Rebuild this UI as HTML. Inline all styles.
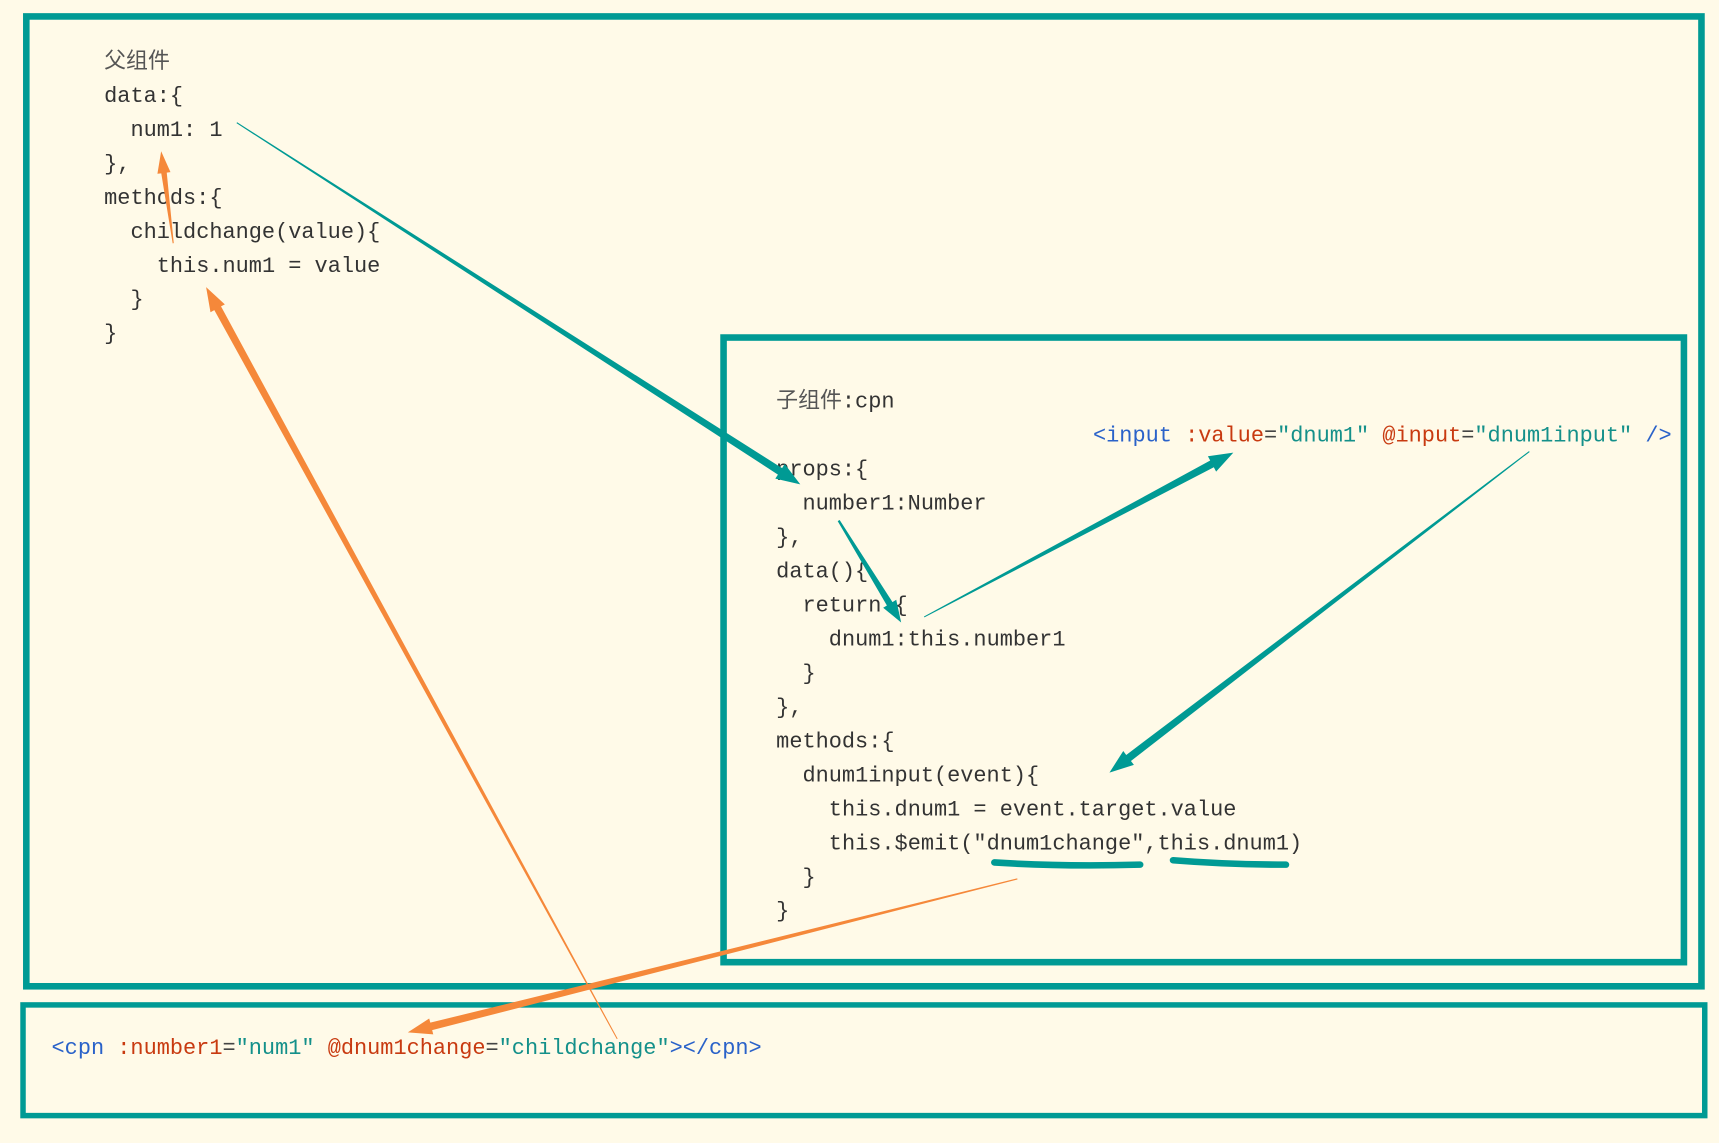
<!DOCTYPE html>
<html><head><meta charset="utf-8">
<style>
html,body{margin:0;padding:0;background:#fffae8;}
svg{display:block;}
text{font-family:"Liberation Mono","Noto Sans CJK SC",monospace;font-size:20px;fill:#333;}
.cj{font-family:"Liberation Sans","Noto Sans CJK SC",sans-serif;fill:#555;}
.b{fill:#2a62c9}.r{fill:#c83a10}.t{fill:#14908a}.g{fill:#444}
</style></head><body>
<svg id="s" width="1719" height="1143" viewBox="0 0 1568 1043" preserveAspectRatio="none" xmlns="http://www.w3.org/2000/svg">
<rect x="0" y="0" width="1568" height="1043" fill="#fffae8"/>
<rect x="24" y="15" width="1528" height="885" fill="none" stroke="#009a94" stroke-width="6"/>
<rect x="660" y="308" width="876" height="570" fill="none" stroke="#009a94" stroke-width="6"/>
<rect x="21" y="917" width="1534" height="101" fill="none" stroke="#009a94" stroke-width="5"/>

<text class="cj" x="95" y="62">父组件</text>
<text x="95" y="93">data:{</text>
<text x="119" y="124">num1: 1</text>
<text x="95" y="155">},</text>
<text x="95" y="186">methods:{</text>
<text x="119" y="217">childchange(value){</text>
<text x="143" y="248">this.num1 = value</text>
<text x="119" y="279">}</text>
<text x="95" y="310">}</text>

<text x="708" y="372"><tspan class="cj">子组件</tspan>:cpn</text>
<text x="708" y="434">props:{</text>
<text x="732" y="465">number1:Number</text>
<text x="708" y="496">},</text>
<text x="708" y="527">data(){</text>
<text x="732" y="558">return {</text>
<text x="756" y="589">dnum1:this.number1</text>
<text x="732" y="620">}</text>
<text x="708" y="651">},</text>
<text x="708" y="682">methods:{</text>
<text x="732" y="713">dnum1input(event){</text>
<text x="756" y="744">this.dnum1 = event.target.value</text>
<text x="756" y="775">this.$emit("dnum1change",this.dnum1)</text>
<text x="732" y="806">}</text>
<text x="708" y="837">}</text>

<text x="997" y="403"><tspan class="b">&lt;input</tspan> <tspan class="r">:value</tspan><tspan class="g">=</tspan><tspan class="t">"dnum1"</tspan> <tspan class="r">@input</tspan><tspan class="g">=</tspan><tspan class="t">"dnum1input"</tspan> <tspan class="b">/&gt;</tspan></text>
<text x="47" y="962"><tspan class="b">&lt;cpn</tspan> <tspan class="r">:number1</tspan><tspan class="g">=</tspan><tspan class="t">"num1"</tspan> <tspan class="r">@dnum1change</tspan><tspan class="g">=</tspan><tspan class="t">"childchange"</tspan><tspan class="b">&gt;&lt;/cpn&gt;</tspan></text>

<path d="M907 787 Q970 791 1040 789" stroke="#009a94" stroke-width="6" fill="none" stroke-linecap="round"/>
<path d="M1070 785 Q1120 789 1173 789" stroke="#009a94" stroke-width="6" fill="none" stroke-linecap="round"/>
<g id="arrows"></g>
</svg>
<script>
var T="#009a94",O="#f5883a";
var A=[
[216,112,730,442,1,7,T,22,16],
[765,475,822,568,2,6,T,20,14],
[843,563,1125,413,1,7,T,22,16],
[1395,412,1012,705,1,7,T,22,16],
[158,222,147,138,1,5,O,20,12],
[563,948,188,262,1,7,O,22,15],
[928,802,372,942,1,7,O,22,15]
];
var g=document.getElementById("arrows"),h="";
A.forEach(function(a){
 var x0=a[0],y0=a[1],x1=a[2],y1=a[3],w0=a[4]/2,w1=a[5]/2,c=a[6],hl=a[7],hw=a[8]/2;
 var dx=x1-x0,dy=y1-y0,L=Math.hypot(dx,dy),ux=dx/L,uy=dy/L,nx=-uy,ny=ux;
 var bx=x1-ux*hl,by=y1-uy*hl;
 var p=[[x0+nx*w0,y0+ny*w0],[bx+nx*w1,by+ny*w1],[bx+nx*hw,by+ny*hw],[x1,y1],[bx-nx*hw,by-ny*hw],[bx-nx*w1,by-ny*w1],[x0-nx*w0,y0-ny*w0]];
 h+='<polygon fill="'+c+'" points="'+p.map(function(q){return q[0].toFixed(1)+","+q[1].toFixed(1)}).join(" ")+'"/>';
});
g.innerHTML=h;
</script>
</body></html>
